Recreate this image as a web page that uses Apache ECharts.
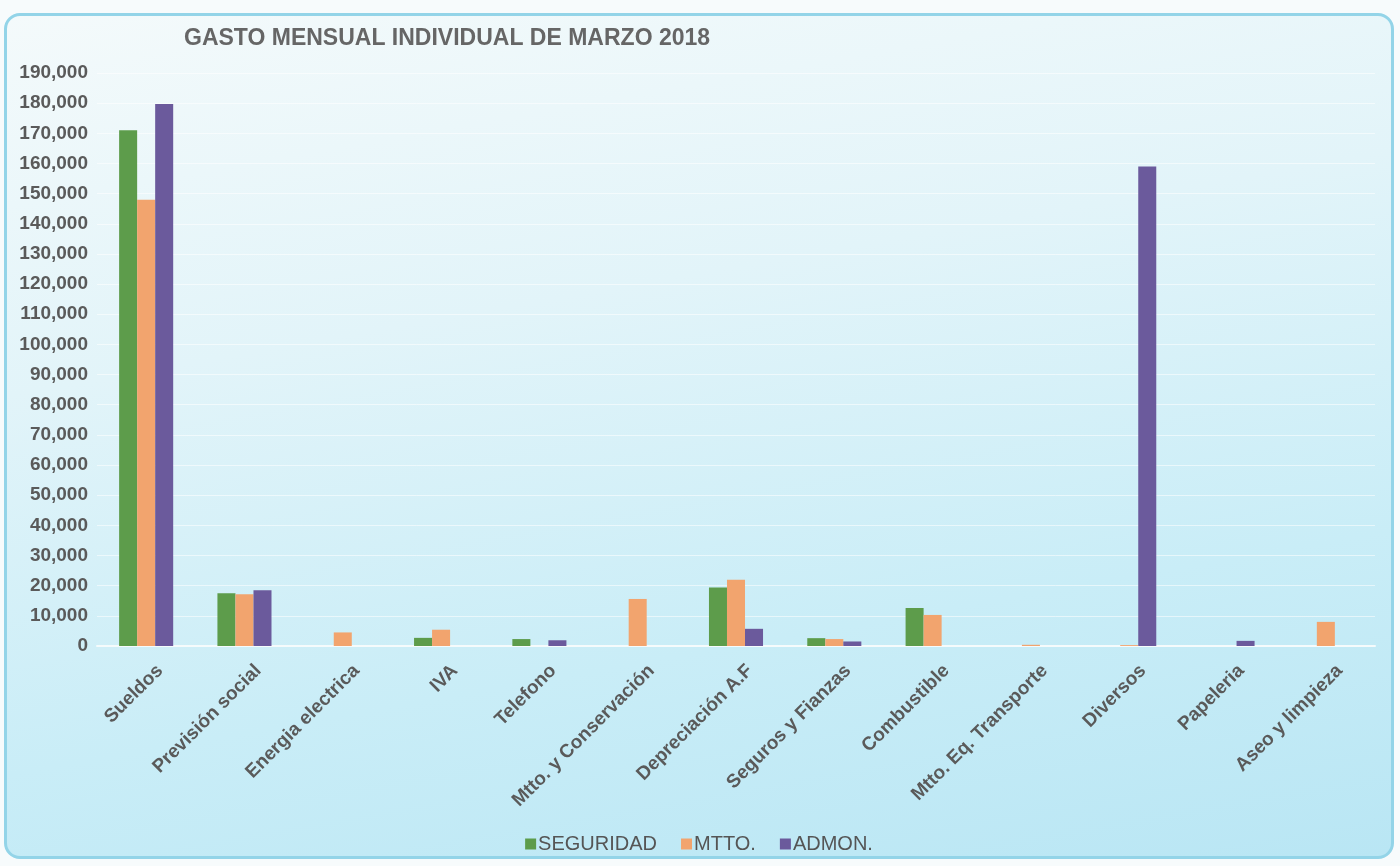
<!DOCTYPE html>
<html>
<head>
<meta charset="utf-8">
<script src="https://cdn.jsdelivr.net/npm/echarts@6/dist/echarts.min.js"></script>
<style>
  html, body { margin: 0; padding: 0; background: #f7fbfc; }
  #wrap {
    position: absolute; left: 4px; top: 13px; width: 1390px; height: 846px;
    border: 3px solid #93d4e8; border-radius: 16px; box-sizing: border-box;
    background: linear-gradient(170deg, #f4fafb 0%, #e2f4f9 35%, #c9edf7 70%, #b9e6f4 100%);
    overflow: hidden;
  }
  #chart { width: 100%; height: 100%; }
</style>
</head>
<body>
<div id="wrap"><div id="chart"></div></div>
<script>
const categories = ['Sueldos', 'Previsión social', 'Energia electrica', 'IVA', 'Telefono',
    'Mtto. y Conservación', 'Depreciación A.F', 'Seguros y Fianzas', 'Combustible',
    'Mtto. Eq. Transporte', 'Diversos', 'Papeleria', 'Aseo y limpieza'];
const seguridad = [171000, 17500, 0, 2700, 2300, 0, 19400, 2600, 12600, 0, 0, 0, 0];
const mtto = [148000, 17200, 4500, 5400, 0, 15600, 22000, 2300, 10300, 400, 300, 0, 8000];
const admon = [179700, 18500, 0, 0, 1900, 0, 5700, 1500, 0, 0, 159000, 1700, 0];

const fontName = 'Liberation Sans, Arial, sans-serif';

const myChart = echarts.init(document.getElementById('chart'));
const option = {
    backgroundColor: 'transparent',
    title: {
        text: 'GASTO MENSUAL INDIVIDUAL DE MARZO 2018',
        left: 172,
        top: 6,
        textStyle: { fontFamily: fontName, fontWeight: 'bold', fontSize: 23, color: '#666' }
    },
    legend: {
        data: ['SEGURIDAD', 'MTTO.', 'ADMON.'],
        bottom: -3,
        left: 'center',
        itemWidth: 11,
        itemHeight: 11,
        itemGap: 24,
        icon: 'rect',
        textStyle: { fontFamily: fontName, fontSize: 20, color: '#555', padding: [0, 0, 0, -3] }
    },
    grid: { left: 90, right: 16, top: 57, bottom: 210, containLabel: false },
    xAxis: {
        type: 'category',
        data: categories,
        axisLine: { lineStyle: { color: '#f5fbfc', width: 2 } },
        axisTick: { show: false },
        axisLabel: {
            rotate: 45, interval: 0, margin: 8, verticalAlign: 'top', padding: [10, 0, 0, 0],
            fontFamily: fontName, fontWeight: 'bold', fontSize: 19, color: '#5a5a5a'
        }
    },
    yAxis: {
        type: 'value',
        min: 0,
        max: 190000,
        interval: 10000,
        axisLine: { show: false },
        axisTick: { show: false },
        axisLabel: {
            margin: 9,
            fontFamily: fontName, fontWeight: 'bold', fontSize: 19, color: '#5a5a5a',
            formatter: v => v.toLocaleString('en-US')
        },
        splitLine: { lineStyle: { color: 'rgba(255,255,255,0.55)', width: 1 } }
    },
    series: [
        { name: 'SEGURIDAD', type: 'bar', data: seguridad, barGap: 0, barCategoryGap: '45%', itemStyle: { color: '#5d9c4b' } },
        { name: 'MTTO.', type: 'bar', data: mtto, itemStyle: { color: '#f2a46e' } },
        { name: 'ADMON.', type: 'bar', data: admon, itemStyle: { color: '#6b5a9c' } }
    ]
};
myChart.setOption(option);
</script>
</body>
</html>
